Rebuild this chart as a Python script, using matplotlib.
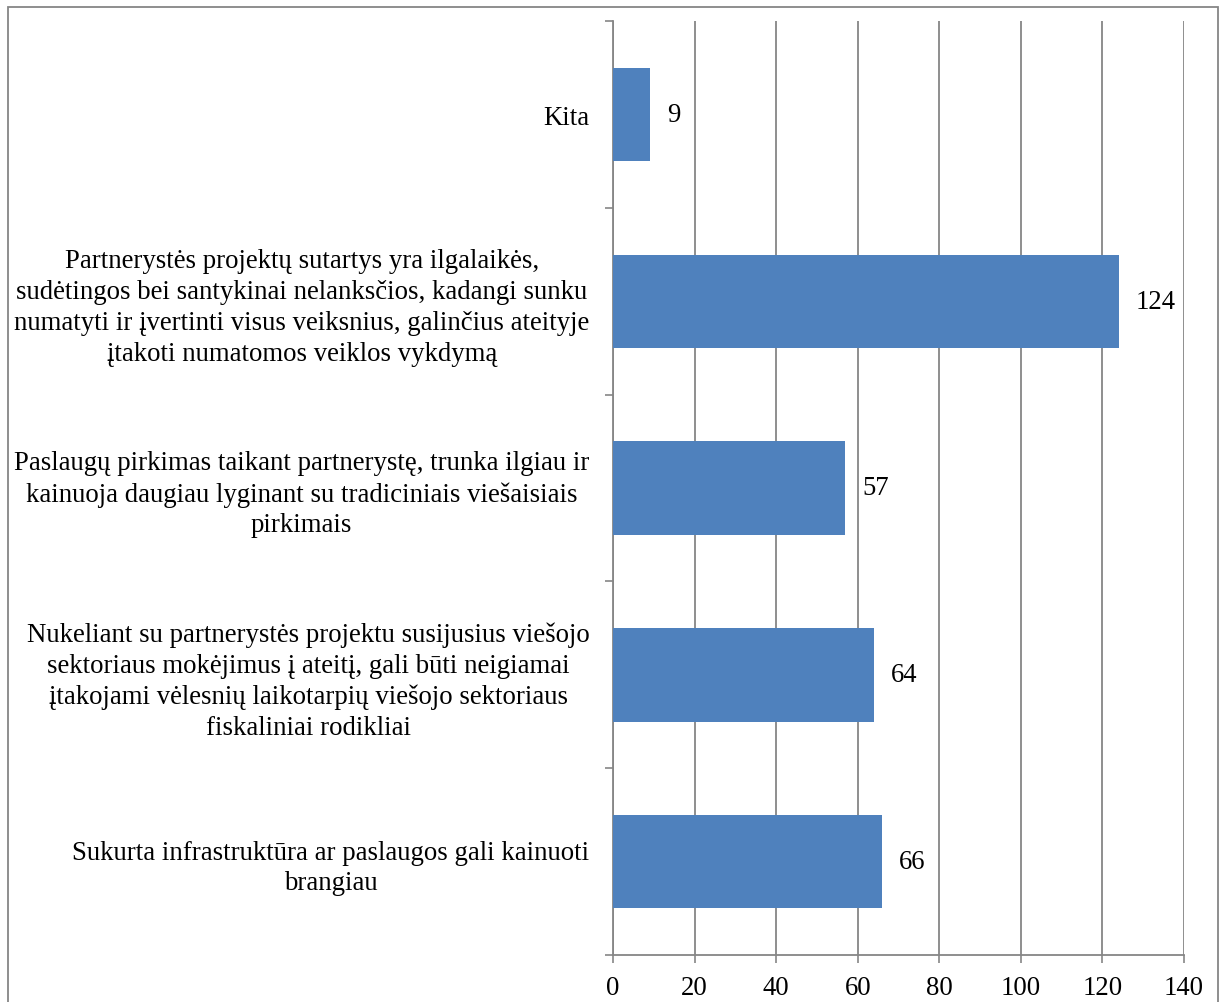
import matplotlib
matplotlib.use("Agg")
import matplotlib.pyplot as plt
from matplotlib.patches import Rectangle

plt.rcParams['font.family'] = ['Liberation Serif', 'DejaVu Serif']

# data, bottom to top
labels = [
    "Sukurta infrastruktūra ar paslaugos gali kainuoti\nbrangiau",
    "Nukeliant su partnerystės projektu susijusius viešojo\nsektoriaus mokėjimus į ateitį, gali būti neigiamai\nįtakojami vėlesnių laikotarpių viešojo sektoriaus\nfiskaliniai rodikliai",
    "Paslaugų pirkimas taikant partnerystę, trunka ilgiau ir\nkainuoja daugiau lyginant su tradiciniais viešaisiais\npirkimais",
    "Partnerystės projektų sutartys yra ilgalaikės,\nsudėtingos bei santykinai nelanksčios, kadangi sunku\nnumatyti ir įvertinti visus veiksnius, galinčius ateityje\nįtakoti numatomos veiklos vykdymą",
    "Kita",
]
values = [66, 64, 57, 124, 9]
xticks = [0, 20, 40, 60, 80, 100, 120, 140]

bar_color = '#4F81BD'
grid_color = '#868686'
fs = 19.3

fig = plt.figure(figsize=(12.21, 10.03), dpi=100)
ax = fig.add_axes([613/1221, 1 - 956/1003, (1184-613)/1221, (956-22)/1003])

pos = list(range(len(values)))
ax.barh(pos, values, height=0.5, color=bar_color, zorder=3)

for p, v in zip(pos, values):
    ax.annotate(str(v), (v, p), xytext=(17, 0), textcoords='offset pixels',
                va='center', ha='left', fontsize=fs)

ax.set_xlim(0, 140)
ax.set_ylim(-0.5, len(values) - 0.5)
ax.set_xticks(xticks)
ax.set_xticklabels([str(t) for t in xticks], fontsize=fs)
ax.set_yticks(pos)
ax.set_yticklabels(labels, fontsize=fs, multialignment='center', linespacing=1.3)
ax.set_yticks([p - 0.5 for p in range(len(values) + 1)], minor=True)

ax.tick_params(axis='y', which='major', length=0, pad=17)
ax.tick_params(axis='y', which='minor', length=6, width=1.2, color=grid_color, direction='out')
ax.tick_params(axis='x', which='major', length=6, width=1.2, color=grid_color, pad=8.5)

ax.grid(axis='x', color=grid_color, linewidth=1.3, zorder=0)
for side in ['top', 'right']:
    ax.spines[side].set_visible(False)
for side in ['left', 'bottom']:
    ax.spines[side].set_color(grid_color)
    ax.spines[side].set_linewidth(1.3)

# outer chart frame
fig.patches.append(Rectangle((8/1221, -0.02), (1218-8)/1221, 1 - 8/1003 + 0.02,
                             transform=fig.transFigure, fill=False,
                             edgecolor=grid_color, linewidth=1.3))

fig.savefig('out.png', dpi=100)
